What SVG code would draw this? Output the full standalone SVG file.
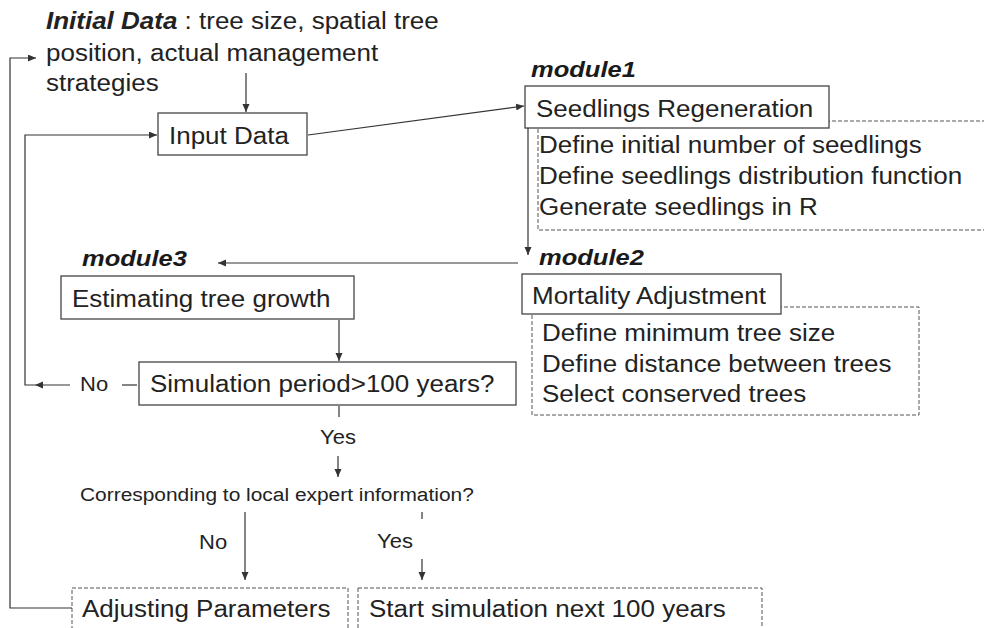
<svg xmlns="http://www.w3.org/2000/svg" width="984" height="628" viewBox="0 0 984 628">
<style>
.t{font-family:"Liberation Sans",Arial,Helvetica,sans-serif;font-size:23px;fill:#222}
.s{font-family:"Liberation Sans",Arial,Helvetica,sans-serif;font-size:20px;fill:#222}
.c{font-family:"Liberation Sans",Arial,Helvetica,sans-serif;font-size:19px;fill:#222}
.m{font-family:"Liberation Sans",Arial,Helvetica,sans-serif;font-size:22px;font-weight:bold;font-style:italic;fill:#1a1a1a}
.b{font-weight:bold;font-style:italic}
.box{fill:#fff;stroke:#444;stroke-width:1.3}
.dash{fill:none;stroke:#555;stroke-width:1;stroke-dasharray:4 2}
.dbox{fill:#fff;stroke:#555;stroke-width:1;stroke-dasharray:4 2}
.ln{fill:none;stroke:#333;stroke-width:1.2}
.la{fill:none;stroke:#333;stroke-width:1.2;marker-end:url(#ah)}
</style>
<defs>
<marker id="ah" markerUnits="userSpaceOnUse" markerWidth="9" markerHeight="8" refX="8" refY="3.5" orient="auto">
<path d="M0,0 L8,3.5 L0,7 z" fill="#333"/>
</marker>
</defs>
<rect width="984" height="628" fill="#fff"/>

<g id="initial-data">
<text class="t" transform="translate(46,29) scale(1.13,1)"><tspan class="b">Initial Data</tspan> : tree size, spatial tree</text>
<text class="t" transform="translate(46,61) scale(1.13,1)">position, actual management</text>
<text class="t" transform="translate(46,91) scale(1.13,1)">strategies</text>
</g>

<g id="module1-details">
<rect class="dash" x="538" y="121" width="470" height="109"/>
<text class="t" transform="translate(539,153) scale(1.13,1)">Define initial number of seedlings</text>
<text class="t" transform="translate(539,184) scale(1.13,1)">Define seedlings distribution function</text>
<text class="t" transform="translate(539,215) scale(1.13,1)">Generate seedlings in R</text>
</g>

<g id="module2-details">
<rect class="dash" x="532" y="307" width="387" height="108"/>
<text class="t" transform="translate(542,341) scale(1.13,1)">Define minimum tree size</text>
<text class="t" transform="translate(542,372) scale(1.13,1)">Define distance between trees</text>
<text class="t" transform="translate(542,402) scale(1.13,1)">Select conserved trees</text>
</g>

<g id="input-data">
<rect class="box" x="158" y="113" width="149" height="42"/>
<text class="t" transform="translate(169,144) scale(1.13,1)">Input Data</text>
</g>

<g id="module1">
<text class="m" transform="translate(531,77) scale(1.16,1)">module1</text>
<rect class="box" x="525" y="86" width="304" height="42"/>
<text class="t" transform="translate(536,117) scale(1.13,1)">Seedlings Regeneration</text>
</g>

<g id="module2">
<text class="m" transform="translate(539,265) scale(1.16,1)">module2</text>
<rect class="box" x="522" y="274" width="259" height="40"/>
<text class="t" transform="translate(532,304) scale(1.13,1)">Mortality Adjustment</text>
</g>

<g id="module3">
<text class="m" transform="translate(82,266) scale(1.16,1)">module3</text>
<rect class="box" x="61" y="276" width="293" height="43"/>
<text class="t" transform="translate(72,307) scale(1.13,1)">Estimating tree growth</text>
</g>

<g id="simulation-check">
<rect class="box" x="139" y="362" width="377" height="43"/>
<text class="t" transform="translate(150,392) scale(1.13,1)">Simulation period&gt;100 years?</text>
</g>

<g id="expert-check">
<text class="c" transform="translate(80,501) scale(1.1,1)">Corresponding to local expert information?</text>
</g>

<g id="adjusting-parameters">
<rect class="dbox" x="72" y="588" width="276" height="60"/>
<text class="t" transform="translate(82,617) scale(1.13,1)">Adjusting Parameters</text>
</g>

<g id="start-simulation">
<rect class="dbox" x="358" y="588" width="404" height="60"/>
<text class="t" transform="translate(369,617) scale(1.13,1)">Start simulation next 100 years</text>
</g>

<g id="connectors">
<path class="la" d="M246,73 V112"/>
<path class="la" d="M308,135 L524,106"/>
<path class="la" d="M528,128 V255"/>
<path class="la" d="M518,263 H218"/>
<path class="la" d="M339,320 V361"/>
<path class="ln" d="M122,385 H137"/>
<text class="s" transform="translate(80,391) scale(1.1,1)">No</text>
<path class="la" d="M70,385 H35"/>
<path class="la" d="M35,385 H25 V135 H157"/>
<path class="ln" d="M339,406 V417"/>
<text class="s" transform="translate(320,444) scale(1.1,1)">Yes</text>
<path class="la" d="M338,456 V477"/>
<path class="la" d="M245,512 V580"/>
<text class="s" transform="translate(199,549) scale(1.1,1)">No</text>
<path class="ln" d="M422,512 V519"/>
<text class="s" transform="translate(377,548) scale(1.1,1)">Yes</text>
<path class="la" d="M422,559 V580"/>
<path class="la" d="M72,608 H10 V58 H36"/>
</g>
</svg>
